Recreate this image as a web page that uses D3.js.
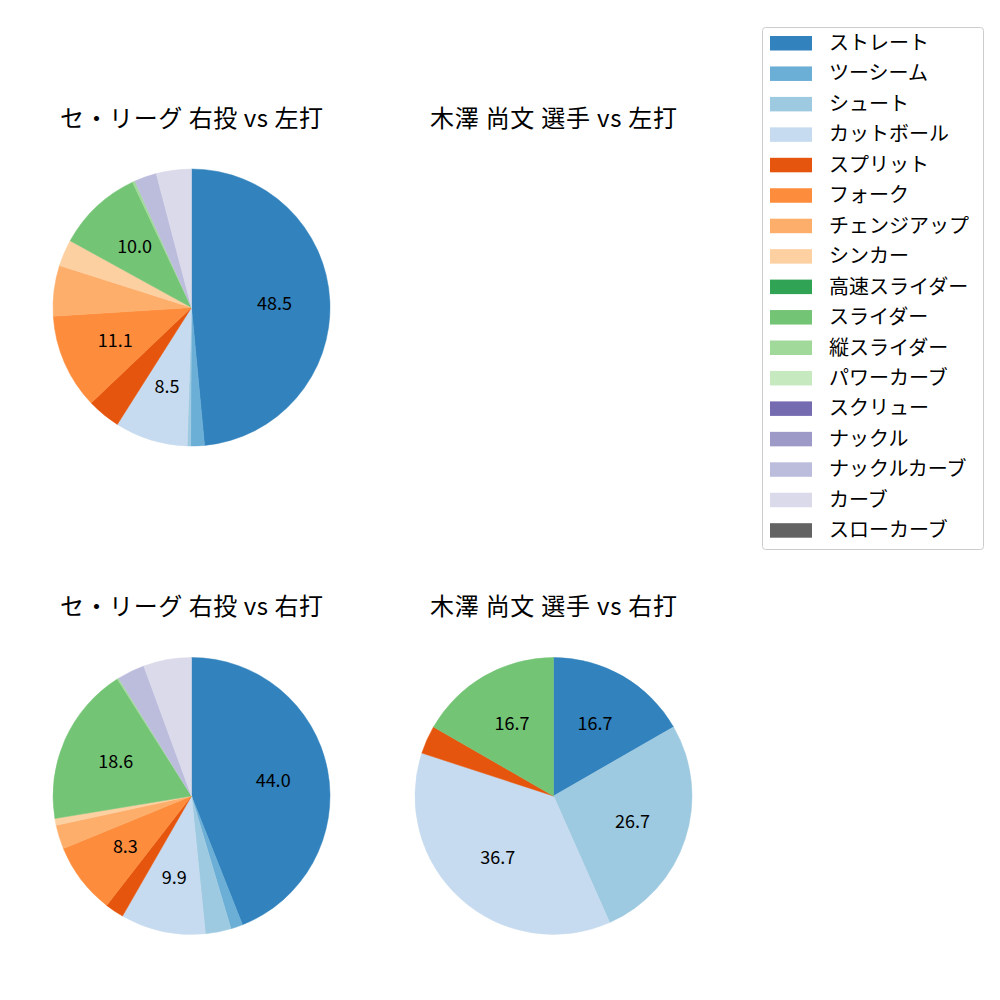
<!DOCTYPE html>
<html>
<head>
<meta charset="utf-8">
<script src="https://cdn.jsdelivr.net/npm/d3@7"></script>
<style>
  body { margin: 0; background: #fff; }
  svg text { font-family: "Noto Sans CJK JP", "DejaVu Sans", sans-serif; }
</style>
</head>
<body>
<svg id="chart" width="1000" height="1000"></svg>
<script>
// pitch types (legend order) and tab20c colours
var pitchTypes = ["ストレート", "ツーシーム", "シュート", "カットボール", "スプリット", "フォーク",
    "チェンジアップ", "シンカー", "高速スライダー", "スライダー", "縦スライダー", "パワーカーブ",
    "スクリュー", "ナックル", "ナックルカーブ", "カーブ", "スローカーブ"];
var pitchColors = ["#3182bd", "#6baed6", "#9ecae1", "#c6dbef", "#e6550d", "#fd8d3c",
    "#fdae6b", "#fdd0a2", "#31a354", "#74c476", "#a1d99b", "#c7e9c0",
    "#756bb1", "#9e9ac8", "#bcbddc", "#dadaeb", "#636363"];

// shares in percent, same order as pitchTypes
var leagueVsLeft  = [48.5, 1.6, 0.4, 8.5, 3.9, 11.1, 5.9, 3.1, 0, 10.0, 0.3, 0, 0, 0, 2.6, 4.1, 0];
var playerVsLeft  = [];
var leagueVsRight = [44.0, 1.4, 3.0, 9.9, 2.2, 8.3, 2.8, 0.8, 0, 18.6, 0.2, 0, 0, 0, 3.2, 5.6, 0];
var playerVsRight = [16.7, 0, 26.7, 36.7, 3.3, 0, 0, 0, 0, 16.7, 0, 0, 0, 0, 0, 0, 0];

var titles = ["セ・リーグ 右投 vs 左打", "木澤 尚文 選手 vs 左打", "セ・リーグ 右投 vs 右打", "木澤 尚文 選手 vs 右打"];

var svg = d3.select("#chart");
var color = d3.scaleOrdinal().domain(pitchTypes).range(pitchColors);

var panels = [
    {data: leagueVsLeft,  cx: 191.5, cy: 307.5, title: titles[0], tw: 263},
    {data: playerVsLeft,  cx: 553.5, cy: 307.5, title: titles[1], tw: 247},
    {data: leagueVsRight, cx: 191.5, cy: 796,   title: titles[2], tw: 263},
    {data: playerVsRight, cx: 553.5, cy: 796,   title: titles[3], tw: 247}
];
var radius = 138.5;

var pie = d3.pie().sort(null).value(function(d) { return d.v; });
var arc = d3.arc().innerRadius(0).outerRadius(radius);
var labelArc = d3.arc().innerRadius(radius * 0.6).outerRadius(radius * 0.6);

panels.forEach(function(p) {
    var g = svg.append("g").attr("transform", "translate(" + p.cx + "," + p.cy + ")");

    svg.append("text")
        .attr("x", p.cx)
        .attr("y", p.cy - 181)
        .attr("text-anchor", "middle")
        .attr("font-size", "24px")
        .attr("textLength", p.tw)
        .attr("lengthAdjust", "spacing")
        .style("fill", "#000")
        .text(p.title);

    if (!p.data.length) return;

    var rows = p.data.map(function(v, i) { return {name: pitchTypes[i], v: v}; })
        .filter(function(d) { return d.v > 0; });

    g.selectAll("path")
        .data(pie(rows))
        .enter()
        .append("path")
        .attr("d", arc)
        .style("fill", function(d) { return color(d.data.name); })
        .style("stroke", function(d) { return color(d.data.name); })
        .style("stroke-width", 0.5);

    g.selectAll("text")
        .data(pie(rows).filter(function(d) { return d.data.v >= 8; }))
        .enter()
        .append("text")
        .attr("transform", function(d) { return "translate(" + labelArc.centroid(d) + ")"; })
        .attr("text-anchor", "middle")
        .attr("dy", "0.35em")
        .attr("font-size", "18px")
        .style("fill", "#000")
        .text(function(d) { return d.data.v.toFixed(1); });
});

// legend
var legend = svg.append("g").attr("transform", "translate(762,27)");
legend.append("rect")
    .attr("x", 0.5).attr("y", 0.5)
    .attr("width", 221).attr("height", 522)
    .attr("rx", 3)
    .style("fill", "#fff")
    .style("stroke", "#ccc");

var item = legend.selectAll("g.item")
    .data(pitchTypes)
    .enter()
    .append("g")
    .attr("class", "item")
    .attr("transform", function(d, i) { return "translate(0," + (16 + i * 30.45) + ")"; });
item.append("rect")
    .attr("x", 8).attr("y", -7)
    .attr("width", 42).attr("height", 14.5)
    .style("fill", function(d) { return color(d); });
item.append("text")
    .attr("x", 67)
    .attr("dy", "0.35em")
    .attr("font-size", "20px")
    .style("fill", "#000")
    .text(function(d) { return d; });
</script>
</body>
</html>
